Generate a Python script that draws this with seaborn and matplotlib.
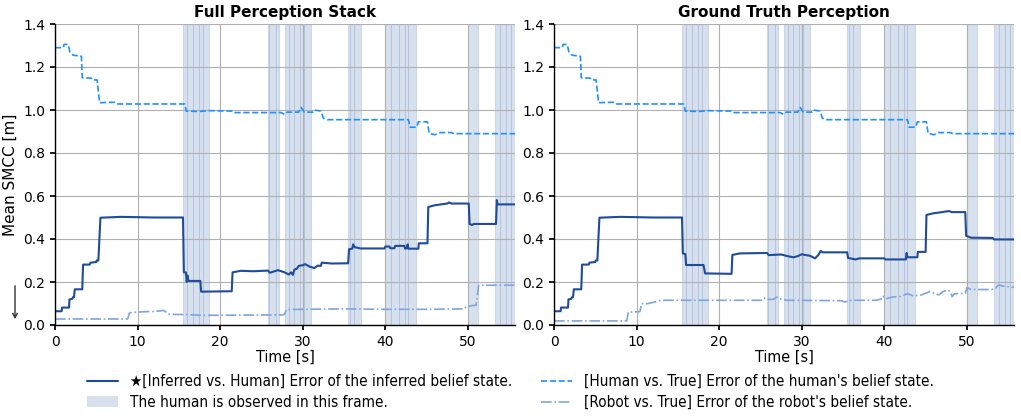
import matplotlib
matplotlib.use("Agg")
import matplotlib.pyplot as plt
import pandas as pd
import seaborn as sns
from matplotlib.patches import Patch
from matplotlib.lines import Line2D
from matplotlib.font_manager import FontProperties

# ---- data (time [s], mean SMCC [m]) ----
panel_titles = ["Full Perception Stack", "Ground Truth Perception"]

# human belief vs truth (same in both panels)
human_err = [(0, 1.29), (1.0, 1.29), (1.1, 1.305), (1.6, 1.305), (1.8, 1.27), (2.2, 1.255),
             (3.2, 1.25), (3.3, 1.15), (4.4, 1.148), (4.5, 1.14), (5.1, 1.14), (5.4, 1.034),
             (7.2, 1.036), (7.5, 1.028), (15.7, 1.028), (15.9, 0.995), (17.5, 0.993),
             (18.5, 0.997), (21.5, 0.995), (21.7, 0.988), (27.4, 0.988), (27.8, 0.979),
             (28.1, 0.99), (29.5, 0.99), (29.8, 1.012), (30.2, 0.99), (31.2, 0.99),
             (31.4, 1.0), (32.2, 0.995), (32.5, 0.962), (33.0, 0.955), (42.8, 0.955),
             (43.0, 0.92), (43.8, 0.92), (44.0, 0.945), (45.1, 0.945), (45.3, 0.891),
             (46.0, 0.885), (46.6, 0.895), (48.0, 0.895), (48.3, 0.89), (55.7, 0.89)]

inferred_full = [(0, 0.064), (0.8, 0.064), (0.85, 0.081), (1.7, 0.081), (1.75, 0.119),
                 (2.1, 0.122), (2.2, 0.13), (2.3, 0.13), (2.4, 0.166), (3.3, 0.166),
                 (3.4, 0.281), (4.2, 0.281), (4.3, 0.29), (5.0, 0.293), (5.05, 0.30),
                 (5.25, 0.30), (5.5, 0.499), (8, 0.503), (12, 0.50), (15.5, 0.50),
                 (15.6, 0.245), (15.85, 0.245), (15.95, 0.20), (16.05, 0.23), (16.15, 0.205),
                 (17.6, 0.205), (17.7, 0.155), (21.4, 0.157), (21.5, 0.245), (22.5, 0.252),
                 (24, 0.25), (25.8, 0.253), (26.0, 0.243), (27.0, 0.255), (27.8, 0.245),
                 (28.3, 0.235), (28.6, 0.245), (28.8, 0.233), (29.0, 0.258), (29.3, 0.262),
                 (29.5, 0.275), (30.0, 0.278), (30.3, 0.283), (30.8, 0.272), (31.4, 0.265),
                 (31.8, 0.276), (32.2, 0.275), (32.3, 0.29), (33.5, 0.286), (35.5, 0.287),
                 (35.6, 0.352), (36.0, 0.355), (36.1, 0.375), (36.3, 0.362), (37, 0.356),
                 (39.9, 0.356), (40.0, 0.365), (40.5, 0.365), (40.6, 0.357), (41.1, 0.357),
                 (41.2, 0.368), (42.3, 0.368), (42.4, 0.355), (42.6, 0.357), (42.7, 0.375),
                 (42.8, 0.355), (44.0, 0.355), (44.05, 0.38), (45.1, 0.38), (45.2, 0.549),
                 (46, 0.557), (47.5, 0.565), (47.7, 0.57), (48, 0.565), (50.1, 0.565),
                 (50.2, 0.47), (50.5, 0.465), (50.7, 0.47), (53.4, 0.47), (53.5, 0.581),
                 (53.6, 0.561), (55.7, 0.561)]

robot_full = [(0, 0.028), (8.8, 0.028), (9.0, 0.055), (9.2, 0.058), (10, 0.06), (11, 0.062),
              (12, 0.063), (12.8, 0.066), (13.1, 0.068), (13.4, 0.062), (13.7, 0.05),
              (16, 0.048), (18, 0.045), (27.6, 0.047), (27.8, 0.05), (28.0, 0.072),
              (30, 0.073), (35, 0.075), (40, 0.073), (45, 0.073), (49.5, 0.075),
              (49.8, 0.085), (50.5, 0.09), (51.0, 0.092), (51.3, 0.185), (55.7, 0.185)]

inferred_gt = [(0, 0.064), (0.8, 0.064), (0.85, 0.081), (1.7, 0.081), (1.75, 0.119),
               (2.1, 0.122), (2.2, 0.13), (2.3, 0.13), (2.4, 0.166), (3.3, 0.166),
               (3.4, 0.281), (4.2, 0.281), (4.3, 0.29), (5.0, 0.293), (5.05, 0.30),
               (5.25, 0.30), (5.5, 0.499), (8, 0.503), (12, 0.50), (15.5, 0.50),
               (15.6, 0.333), (15.9, 0.33), (16.0, 0.279), (18.1, 0.279), (18.3, 0.24),
               (21.5, 0.238), (21.6, 0.326), (22.5, 0.333), (25.8, 0.335), (26.0, 0.325),
               (27.5, 0.328), (28.3, 0.32), (29.0, 0.315), (29.5, 0.32), (30.0, 0.329),
               (30.5, 0.325), (31.0, 0.322), (31.6, 0.31), (32.0, 0.325), (32.3, 0.345),
               (32.5, 0.338), (35.5, 0.338), (35.6, 0.312), (36.5, 0.305), (37, 0.31),
               (40, 0.31), (40.1, 0.305), (42.6, 0.305), (42.7, 0.335), (42.8, 0.315),
               (44.0, 0.315), (44.05, 0.34), (45.0, 0.34), (45.1, 0.512), (46, 0.52),
               (47, 0.525), (47.8, 0.53), (48.2, 0.525), (49.8, 0.525), (49.9, 0.415),
               (50.5, 0.406), (53.1, 0.405), (53.3, 0.398), (55.7, 0.398)]

robot_gt = [(0, 0.019), (8.8, 0.019), (9.0, 0.06), (10.4, 0.062), (10.6, 0.1), (11.0, 0.097),
            (12.0, 0.105), (13.0, 0.115), (25.3, 0.115), (25.5, 0.125), (25.8, 0.118),
            (26.6, 0.12), (27.0, 0.13), (27.5, 0.12), (28.2, 0.115), (34.8, 0.113),
            (35.2, 0.107), (36.0, 0.115), (39.0, 0.115), (39.6, 0.12), (39.8, 0.136),
            (40.2, 0.122), (41.0, 0.13), (42.0, 0.133), (42.8, 0.146), (43.5, 0.135),
            (44.5, 0.14), (45.5, 0.155), (46.0, 0.148), (46.6, 0.14), (47.1, 0.155),
            (47.7, 0.163), (48.0, 0.155), (48.2, 0.132), (48.5, 0.145), (49.8, 0.147),
            (50.0, 0.174), (50.5, 0.165), (53.0, 0.165), (53.5, 0.172), (53.8, 0.186),
            (54.5, 0.18), (55.7, 0.175)]

# frames where the human is observed (start, end) [s]
observed_spans = [(15.55, 16.03), (16.03, 16.76), (16.76, 17.42), (17.42, 17.98), (17.98, 18.67),
                  (25.78, 25.97), (25.97, 26.8), (26.8, 27.15),
                  (27.79, 28.36), (28.36, 28.97), (28.97, 29.61), (29.61, 30.1), (30.1, 30.99),
                  (35.52, 35.67), (35.67, 36.2), (36.2, 37.09),
                  (39.92, 40.73), (40.73, 41.61), (41.61, 42.42), (42.42, 42.79), (42.79, 43.72),
                  (50.06, 51.19),
                  (53.33, 53.94), (53.94, 54.55), (54.55, 55.24), (55.24, 55.7)]

legend_labels = ["\u2605[Inferred vs. Human] Error of the inferred belief state.",
                 "The human is observed in this frame.",
                 "[Human vs. True] Error of the human's belief state.",
                 "[Robot vs. True] Error of the robot's belief state."]

c_inf = "#1f4b9b"
c_hum = "#1e90ff"
c_rob = "#7fa5dc"
c_span = "#b0c4de"

sns.set_theme(style="whitegrid", rc={
    "grid.color": "#b0b0b0", "grid.linewidth": 0.8,
    "axes.edgecolor": "black", "axes.linewidth": 1.0,
    "xtick.bottom": True, "ytick.left": True,
    "xtick.major.size": 3.5, "ytick.major.size": 3.5,
    "xtick.color": "black", "ytick.color": "black",
    "text.color": "black", "axes.labelcolor": "black",
    "xtick.labelsize": 10, "ytick.labelsize": 10,
})
plt.rcParams["font.family"] = ["DejaVu Sans"]

fig = plt.figure(figsize=(10.21, 4.16), dpi=100)
W, H = 1021, 416
ax1 = fig.add_axes([55 / W, 1 - 325 / H, 460 / W, 301 / H])
ax2 = fig.add_axes([554 / W, 1 - 325 / H, 460 / W, 301 / H])

cond = FontProperties(family="DejaVu Sans", stretch="condensed", size=11)


def to_df(pts):
    return pd.DataFrame(pts, columns=["t", "v"])


panels = [(ax1, inferred_full, robot_full), (ax2, inferred_gt, robot_gt)]
for i, (ax, inf, rob) in enumerate(panels):
    for s, e in observed_spans:
        ax.axvspan(s, e, facecolor=c_span, alpha=0.5, edgecolor="#9fb4dc", linewidth=0.6, zorder=0)
    d = to_df(rob)
    sns.lineplot(data=d, x="t", y="v", ax=ax, color=c_rob, linewidth=1.2, linestyle="-.",
                 estimator=None, sort=False)
    d = to_df(human_err)
    sns.lineplot(data=d, x="t", y="v", ax=ax, color=c_hum, linewidth=1.2, linestyle="--",
                 estimator=None, sort=False)
    d = to_df(inf)
    sns.lineplot(data=d, x="t", y="v", ax=ax, color=c_inf, linewidth=1.5,
                 estimator=None, sort=False)
    ax.set_xlim(0, 55.7)
    ax.set_ylim(0, 1.4)
    ax.set_xticks(range(0, 51, 10))
    ax.set_yticks([0.0, 0.2, 0.4, 0.6, 0.8, 1.0, 1.2, 1.4])
    ax.set_yticklabels([f"{y:.1f}" for y in ax.get_yticks()])
    ax.set_title(panel_titles[i], fontweight="bold", fontsize=11, pad=5)
    ax.set_xlabel("Time [s]", fontproperties=FontProperties(family="DejaVu Sans",
                                                             stretch="condensed", size=11.5),
                  labelpad=1)
    ax.set_ylabel("Mean SMCC [m]" if i == 0 else "", fontsize=11)
    ax.spines["top"].set_visible(False)
    ax.spines["right"].set_visible(False)
    ax.grid(True, zorder=0.5)

# "lower is better" arrow
fig.add_artist(matplotlib.patches.FancyArrowPatch(
    (15 / W, 1 - 283 / H), (15 / W, 1 - 322 / H), transform=fig.transFigure,
    arrowstyle="->", mutation_scale=8, color="#333333", linewidth=1.0))

handles = [Line2D([], [], color=c_inf, linewidth=1.5),
           Patch(facecolor=c_span, alpha=0.5, edgecolor="none"),
           Line2D([], [], color=c_hum, linewidth=1.2, linestyle="--"),
           Line2D([], [], color=c_rob, linewidth=1.2, linestyle="-.")]
fig.legend(handles, legend_labels, loc="center", bbox_to_anchor=(0.5, 1 - 392 / H),
           ncol=2, frameon=False, prop=cond, handlelength=2.0, handletextpad=0.8,
           columnspacing=1.9, labelspacing=0.4)

fig.savefig("out.png", dpi=100)
